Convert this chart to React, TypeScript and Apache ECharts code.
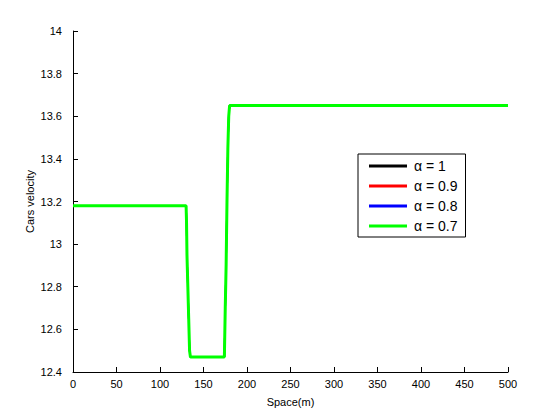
import React, { useEffect, useRef } from "react";
import * as echarts from "echarts";

const seriesNames = ["α = 1", "α = 0.9", "α = 0.8", "α = 0.7"];
const seriesColors = ["#000000", "#ff0000", "#0000ff", "#00ff00"];
const spaceX = [0, 130, 130.5, 131, 132, 133, 134, 135, 174, 175, 176, 177, 178, 179, 180, 500];
const velocity = [13.18, 13.18, 13.1, 12.95, 12.8, 12.65, 12.5, 12.47, 12.47, 12.7, 12.9, 13.2, 13.45, 13.6, 13.65, 13.65];
const xTicks = [0, 50, 100, 150, 200, 250, 300, 350, 400, 450, 500];
const yTicks = [12.4, 12.6, 12.8, 13, 13.2, 13.4, 13.6, 13.8, 14];

export default function App() {
  const ref = useRef<HTMLDivElement>(null);
  useEffect(() => {
    if (!ref.current) return;
    const chart = echarts.init(ref.current, null, { renderer: "svg" });
    const font = "'Liberation Sans', Arial, Helvetica, sans-serif";
    const pts = spaceX.map((x, i) => [x, velocity[i]]);
    chart.setOption({
      animation: false,
      backgroundColor: "#ffffff",
      textStyle: { fontFamily: font },
      grid: { left: 73, top: 31, right: 52, bottom: 48 },
      legend: {
        orient: "vertical",
        left: 358,
        top: 154,
        padding: [5, 8, 4, 11],
        backgroundColor: "#ffffff",
        borderColor: "#000000",
        borderWidth: 1,
        borderRadius: 0,
        itemWidth: 38,
        itemHeight: 3,
        itemGap: 6,
        icon: "rect",
        textStyle: { fontFamily: font, fontSize: 14, color: "#000", lineHeight: 14, padding: [0, 0, 0, 2] },
        data: seriesNames.map((n, i) => ({ name: n, itemStyle: { color: seriesColors[i] } })),
      },
      xAxis: {
        type: "value",
        min: 0,
        max: 500,
        interval: 50,
        name: "Space(m)",
        nameLocation: "middle",
        nameGap: 24,
        nameMoveOverlap: false,
        nameTextStyle: { fontFamily: font, fontSize: 11, color: "#000" },
        axisLine: { show: true, lineStyle: { color: "#000", width: 1 } },
        axisTick: { show: true, inside: true, length: 5, lineStyle: { color: "#000" } },
        axisLabel: { fontFamily: font, fontSize: 11, color: "#000", margin: 6, formatter: (v: number) => (xTicks.includes(v) ? String(v) : "") },
        splitLine: { show: false },
      },
      yAxis: {
        type: "value",
        min: 12.4,
        max: 14,
        interval: 0.2,
        name: "Cars velocity",
        nameLocation: "middle",
        nameGap: 38,
        nameMoveOverlap: false,
        nameRotate: 90,
        nameTextStyle: { fontFamily: font, fontSize: 11, color: "#000" },
        axisLine: { show: true, lineStyle: { color: "#000", width: 1 } },
        axisTick: { show: true, inside: true, length: 5, lineStyle: { color: "#000" } },
        axisLabel: {
          fontFamily: font,
          fontSize: 11,
          color: "#000",
          margin: 11,
          formatter: (v: number) => {
            const t = yTicks.find((y) => Math.abs(y - v) < 1e-6);
            return t === undefined ? "" : String(t);
          },
        },
        splitLine: { show: false },
      },
      series: seriesNames.map((n, i) => ({
        name: n,
        type: "line",
        data: pts,
        showSymbol: false,
        symbol: "none",
        lineStyle: { color: seriesColors[i], width: i === seriesNames.length - 1 ? 3 : 1.5 },
        itemStyle: { color: seriesColors[i] },
        z: 2 + i,
      })),
    });
    return () => chart.dispose();
  }, []);
  return <div ref={ref} style={{ position: "fixed", left: 0, top: 0, width: 560, height: 420 }} />;
}
